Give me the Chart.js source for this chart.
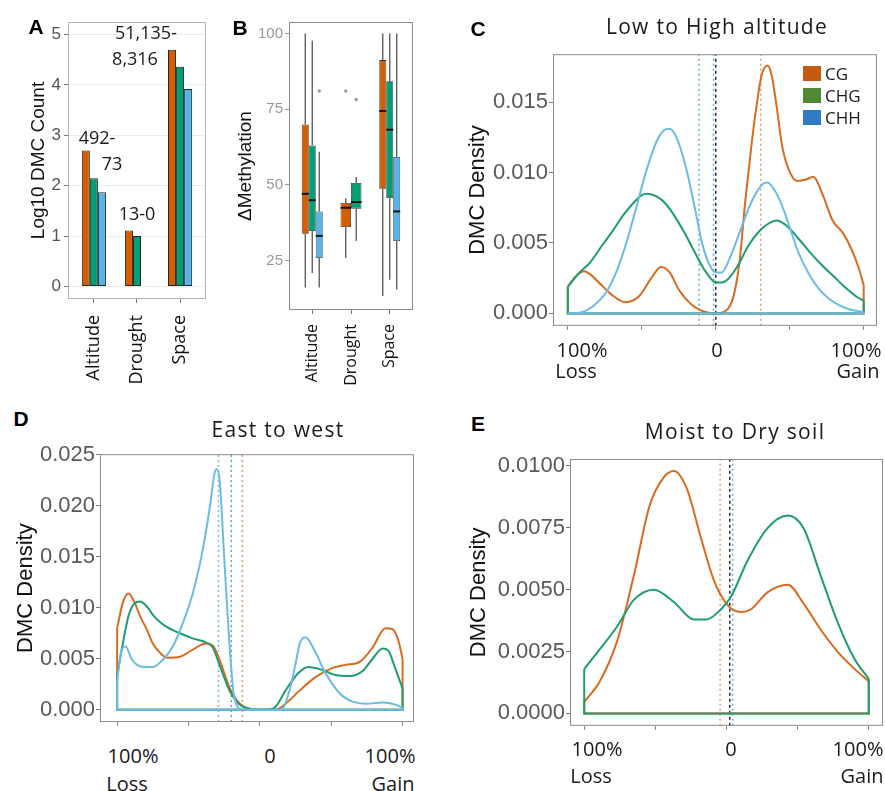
<!DOCTYPE html>
<html>
<head>
<meta charset="utf-8">
<script src="https://cdn.jsdelivr.net/npm/chart.js@4.4.0/dist/chart.umd.min.js"></script>
<style>
    html, body { margin: 0; padding: 0; background: #fff; }
    body { position: relative; width: 885px; height: 791px; overflow: hidden; }
    .panel { position: absolute; }
    .txt { position: absolute; white-space: nowrap; transform: translate(-50%, -50%); line-height: 1; color: #1a1a1a; font-family: "Open Sans", sans-serif; }
    .letter { font-family: "Liberation Sans", Arial, sans-serif; font-weight: bold; font-size: 21px; color: #000; }
    .title { font-size: 21px; letter-spacing: 1.3px; }
    .note { font-size: 18px; }
    .xlab { font-size: 20px; }
    .legend { position: absolute; left: 803px; top: 62px; font-family: "Open Sans", sans-serif; font-size: 17px; color: #1a1a1a; }
    .legend div { display: flex; align-items: center; height: 22px; }
    .legend span { display: inline-block; width: 18px; height: 15px; margin-right: 4px; }
</style>
</head>
<body>
<div class="panel" style="left:0;top:0;width:215px;height:395px"><canvas id="chart-a"></canvas></div>
<div class="panel" style="left:215px;top:0;width:210px;height:395px"><canvas id="chart-b"></canvas></div>
<div class="panel" style="left:440px;top:40px;width:445px;height:300px"><canvas id="chart-c"></canvas></div>
<div class="panel" style="left:0;top:440px;width:440px;height:300px"><canvas id="chart-d"></canvas></div>
<div class="panel" style="left:440px;top:440px;width:445px;height:300px"><canvas id="chart-e"></canvas></div>

<div class="legend">
    <div><span style="background:#c55a11"></span>CG</div>
    <div><span style="background:#4e8a35"></span>CHG</div>
    <div><span style="background:#2e7bc4"></span>CHH</div>
</div>

<script>
// ---------- data ----------
const categories = ["Altitude", "Drought", "Space"];

// A: log10 of DMC counts
const log10CG = [2.70, 1.11, 4.70];
const log10CHG = [2.15, 1.00, 4.36];
const log10CHH = [1.87, 0.00, 3.92];

// B: box stats [min, q1, median, q3, max]
const boxCG = [[16, 33.8, 47, 69.9, 100], [25.8, 36, 42.4, 44, 45.5], [13.2, 48.7, 74.4, 91.2, 100]];
const boxCHG = [[20.8, 34.7, 44.9, 63, 97.6], [31.4, 42.1, 44.3, 50.6, 52.6], [18.6, 45.6, 68.2, 84.2, 100]];
const boxCHH = [[16, 25.8, 33.1, 41.2, 60.9], null, [15.4, 31.4, 41.2, 59.2, 100]];
const outCG = [[], [81], []];
const outCHG = [[], [78.2], []];
const outCHH = [[81], [], []];

// C: low to high altitude, density over % change
const altCG = [[-100,0.0019],[-94,0.0027],[-89,0.0030],[-84,0.0027],[-79,0.0022],[-70,0.0013],[-61,0.0008],[-52,0.0012],[-43,0.0026],[-37,0.0033],[-31,0.0029],[-25,0.0017],[-16,0.0006],[-7,0.0001],[0,0],[7,0.0002],[12,0.0012],[16,0.0036],[20,0.0080],[24,0.0118],[27,0.0143],[31,0.0169],[35,0.0176],[38,0.0168],[41,0.0148],[45,0.0118],[49,0.0103],[55,0.0094],[61,0.0095],[66,0.0097],[72,0.0085],[79,0.0066],[86,0.0057],[92,0.0045],[97,0.0031],[100,0.0020]];
const altCHG = [[-100,0.0019],[-92,0.0029],[-85,0.0036],[-77,0.0048],[-70,0.0058],[-63,0.0069],[-56,0.0078],[-50,0.0084],[-46,0.0085],[-40,0.0083],[-34,0.0078],[-29,0.0071],[-21,0.0057],[-14,0.0043],[-7,0.0030],[0,0.0022],[4,0.0022],[8,0.0024],[15,0.0034],[22,0.0048],[30,0.0059],[36,0.0064],[41,0.0066],[47,0.0063],[56,0.0053],[64,0.0043],[72,0.0034],[80,0.0026],[88,0.0018],[95,0.0012],[100,0.0009]];
const altCHH = [[-100,0],[-90,0.0001],[-82,0.0006],[-74,0.0015],[-67,0.0030],[-61,0.0048],[-54,0.0074],[-47,0.0101],[-40,0.0122],[-35,0.0130],[-31.5,0.0131],[-27,0.0126],[-20,0.0103],[-14,0.0074],[-9,0.0049],[-4,0.0034],[0,0.0029],[4,0.0029],[9,0.0038],[16,0.0057],[22,0.0074],[27,0.0085],[32,0.0092],[35,0.0093],[40,0.0087],[45,0.0076],[50,0.0061],[56,0.0043],[63,0.0028],[70,0.0017],[77,0.0010],[83,0.0006],[90,0.0003],[100,0.0001]];
const altMeans = [30.4, -11.3, -1.5, 0];

// D: east to west
const ewCG = [[-100,0.0080],[-96,0.0105],[-92,0.0114],[-88,0.0106],[-84,0.0092],[-79,0.0078],[-75,0.0065],[-70,0.0056],[-65,0.0051],[-56,0.0052],[-47,0.0059],[-38,0.0065],[-33,0.0063],[-28,0.0048],[-21,0.0021],[-14,0.0006],[-7,0.0001],[2,0],[11,0],[18,0.0006],[28,0.0019],[39,0.0032],[51,0.0041],[60,0.0044],[70,0.0047],[79,0.0061],[88,0.0080],[93,0.0079],[97,0.0068],[100,0.0050]];
const ewCHG = [[-100,0.0033],[-96,0.0065],[-92,0.0092],[-88,0.0104],[-84,0.0106],[-79,0.0101],[-75,0.0093],[-70,0.0086],[-65,0.0081],[-56,0.0075],[-47,0.0070],[-38,0.0066],[-33,0.0061],[-28,0.0043],[-21,0.0018],[-14,0.0005],[-7,0.0001],[4,0],[11,0.0003],[18,0.0019],[27,0.0036],[34,0.0042],[44,0.0039],[53,0.0034],[63,0.0033],[72,0.0038],[79,0.0050],[86,0.0060],[90,0.0058],[95,0.0040],[100,0.0021]];
const ewCHH = [[-100,0.0029],[-97,0.0058],[-94,0.0062],[-90,0.0050],[-86,0.0044],[-81,0.0042],[-75,0.0042],[-68,0.0049],[-61,0.0062],[-54,0.0085],[-47,0.0114],[-40,0.0157],[-35,0.0199],[-32,0.0230],[-30.5,0.0236],[-28,0.0222],[-25,0.0150],[-21,0.0059],[-18,0.0013],[-12,0],[0,0],[15,0],[21,0.0020],[25,0.0045],[28,0.0065],[32,0.0071],[38,0.0059],[46,0.0036],[56,0.0016],[65,0.0008],[74,0.0006],[86,0.0007],[95,0.0005],[100,0.0002]];
const ewMeans = [-29, -20, -12.3];

// E: moist to dry soil
const soilCG = [[-100,0.00046],[-89,0.0013],[-77,0.0029],[-65,0.0056],[-54,0.0084],[-44,0.00955],[-37,0.0098],[-28,0.0091],[-18,0.0071],[-9,0.0054],[0.5,0.0044],[10,0.0041],[17,0.0042],[29,0.0049],[43,0.0052],[54,0.00446],[66,0.0034],[78,0.0025],[90,0.0018],[100,0.0013]];
const soilCHG = [[-100,0.0018],[-89,0.0026],[-77,0.0035],[-65,0.0046],[-51,0.0050],[-37,0.0045],[-23,0.0038],[-14,0.0038],[-4,0.0042],[3,0.0047],[15,0.0062],[29,0.0075],[43,0.0080],[54,0.0075],[66,0.0056],[78,0.0037],[90,0.0022],[100,0.0014]];
const soilMeans = [-4.5, 2.3, 4.3];

// ---------- colours ----------
const FILL = { CG: "#d55e00", CHG: "#009e73", CHH: "#56b4e9" };
const LINE = { CG: "#d96b1f", CHG: "#1e9c72", CHH: "#6cbbe3" };

Chart.defaults.font.family = '"Liberation Sans", Arial, sans-serif';
Chart.defaults.color = "#555";
Chart.defaults.animation = false;
Chart.defaults.plugins.legend.display = false;
Chart.defaults.plugins.tooltip.enabled = false;

function fixedTicks(values) {
    return scale => { scale.ticks = values.map(v => ({ value: v })); };
}

// grey box round the plot area
const framePlugin = {
    id: "frame",
    afterDatasetsDraw(chart, args, opts) {
        const { ctx, chartArea: a } = chart;
        ctx.save();
        ctx.strokeStyle = opts.color || "#8c8c8c";
        ctx.lineWidth = 1;
        ctx.strokeRect(a.left + 0.5, a.top + 0.5, a.right - a.left - 1, a.bottom - a.top - 1);
        ctx.restore();
    }
};

function catAxis(height, fontSize, pad) {
    return {
        type: "linear", min: 0.4, max: 3.6, offset: false,
        afterBuildTicks: fixedTicks([1, 2, 3]),
        afterFit: s => { s.height = height; },
        border: { display: false },
        grid: { drawOnChartArea: false, offset: false, tickLength: 4, tickColor: "#777" },
        ticks: {
            callback: v => categories[Math.round(v) - 1],
            minRotation: 90, maxRotation: 90, autoSkip: false, padding: pad,
            color: "#111", font: { family: '"Open Sans", sans-serif', size: fontSize }
        }
    };
}

// ---------- A: bars ----------
const barSeries = [["CG", log10CG], ["CHG", log10CHG], ["CHH", log10CHH]];
new Chart(document.getElementById("chart-a"), {
    type: "bar",
    data: {
        datasets: barSeries.map(([name, vals]) => ({
            label: name,
            data: vals.map((v, i) => ({ x: i + 1, y: v })),
            backgroundColor: FILL[name],
            borderColor: "#222",
            borderWidth: 1,
            borderSkipped: false,
            categoryPercentage: 0.56,
            barPercentage: 1
        }))
    },
    options: {
        responsive: true, maintainAspectRatio: false,
        layout: { padding: { top: 22, right: 7, left: 0, bottom: 0 } },
        plugins: { frame: { color: "#b5b5b5" } },
        scales: {
            x: catAxis(96, 18, 12),
            y: {
                min: -0.25, max: 5.25,
                afterBuildTicks: fixedTicks([0, 1, 2, 3, 4, 5]),
                afterFit: s => { s.width = 68; },
                border: { display: false },
                grid: { color: "#ebebeb", tickLength: 4, tickColor: "#777" },
                ticks: { padding: 3, color: "#555", font: { size: 17 } },
                title: { display: true, text: "Log10 DMC Count", color: "#111", font: { size: 19 }, padding: { top: 27, bottom: 0 } }
            }
        }
    },
    plugins: [framePlugin]
});

// ---------- B: box plots ----------
const boxSeries = [["CG", boxCG, outCG], ["CHG", boxCHG, outCHG], ["CHH", boxCHH, outCHH]];

const boxPlugin = {
    id: "boxParts",
    beforeDatasetsDraw(chart) {
        const { ctx } = chart;
        const y = chart.scales.y;
        ctx.save();
        ctx.strokeStyle = "#555";
        ctx.lineWidth = 1.3;
        boxSeries.forEach(([name, stats], di) => {
            const meta = chart.getDatasetMeta(di);
            stats.forEach((s, j) => {
                if (!s) return;
                const el = meta.data[j];
                ctx.beginPath();
                ctx.moveTo(el.x, y.getPixelForValue(s[0]));
                ctx.lineTo(el.x, y.getPixelForValue(s[1]));
                ctx.moveTo(el.x, y.getPixelForValue(s[3]));
                ctx.lineTo(el.x, y.getPixelForValue(s[4]));
                ctx.stroke();
            });
        });
        ctx.restore();
    },
    afterDatasetsDraw(chart) {
        const { ctx } = chart;
        const y = chart.scales.y;
        ctx.save();
        boxSeries.forEach(([name, stats, outs], di) => {
            const meta = chart.getDatasetMeta(di);
            stats.forEach((s, j) => {
                const el = meta.data[j];
                if (s) {
                    const py = y.getPixelForValue(s[2]);
                    ctx.strokeStyle = "#111";
                    ctx.lineWidth = 2;
                    ctx.beginPath();
                    ctx.moveTo(el.x - el.width / 2, py);
                    ctx.lineTo(el.x + el.width / 2, py);
                    ctx.stroke();
                }
                outs[j].forEach(v => {
                    ctx.fillStyle = "#a0a0a0";
                    ctx.beginPath();
                    ctx.arc(el.x, y.getPixelForValue(v), 1.8, 0, Math.PI * 2);
                    ctx.fill();
                });
            });
        });
        ctx.restore();
    }
};

new Chart(document.getElementById("chart-b"), {
    type: "bar",
    data: {
        datasets: boxSeries.map(([name, stats]) => ({
            label: name,
            data: stats.map((s, i) => ({ x: i + 1, y: s ? [s[1], s[3]] : null })),
            backgroundColor: FILL[name],
            borderColor: "#333",
            borderWidth: 0.8,
            borderSkipped: false,
            categoryPercentage: 0.54,
            barPercentage: 1,
            skipNull: true
        }))
    },
    options: {
        responsive: true, maintainAspectRatio: false,
        layout: { padding: { top: 22, right: 12, left: 0, bottom: 0 } },
        plugins: { frame: { color: "#8c8c8c" } },
        scales: {
            x: catAxis(85, 16, 10),
            y: {
                min: 8.6, max: 103.8,
                afterBuildTicks: fixedTicks([25, 50, 75, 100]),
                afterFit: s => { s.width = 74; },
                border: { display: false },
                grid: { drawOnChartArea: false, tickLength: 4, tickColor: "#999" },
                ticks: { padding: 2, color: "#999", font: { size: 15 } },
                title: { display: true, text: "ΔMethylation", color: "#111", font: { size: 19 }, padding: { top: 19, bottom: 0 } }
            }
        }
    },
    plugins: [framePlugin, boxPlugin]
});

// ---------- C, D, E: density curves ----------
function densityChart(canvasId, curves, means, cfg) {
    const datasets = [];
    curves.forEach(c => {
        const pts = c.points.map(p => ({ x: p[0], y: p[1] }));
        const first = pts[0];
        const last = pts[pts.length - 1];
        datasets.push({
            data: pts, borderColor: c.color, borderWidth: 2, pointRadius: 0,
            cubicInterpolationMode: "monotone", order: c.order
        });
        // closing edges down to zero and the baseline, like geom_density
        datasets.push({
            data: [first, { x: first.x, y: 0 }, { x: last.x, y: 0 }, last],
            borderColor: c.color, borderWidth: 2, pointRadius: 0, tension: 0, order: c.order
        });
    });
    means.forEach(m => {
        datasets.push({
            data: [{ x: m.x, y: cfg.yMin }, { x: m.x, y: cfg.yMax }],
            borderColor: m.color, borderWidth: 1.5, borderDash: m.dash || [2, 3],
            pointRadius: 0, order: 9
        });
    });

    return new Chart(document.getElementById(canvasId), {
        type: "line",
        data: { datasets },
        options: {
            responsive: true, maintainAspectRatio: false,
            layout: { padding: { top: cfg.top, right: cfg.right, left: 0, bottom: 0 } },
            plugins: { frame: { color: "#8c8c8c" } },
            scales: {
                x: {
                    type: "linear", min: cfg.xMin, max: cfg.xMax,
                    afterBuildTicks: fixedTicks([-100, -50, 0, 50, 100]),
                    afterFit: s => { s.height = cfg.xHeight; },
                    border: { display: false },
                    grid: { drawOnChartArea: false, tickLength: 4, tickColor: "#888" },
                    ticks: { callback: () => "", padding: 0 }
                },
                y: {
                    min: cfg.yMin, max: cfg.yMax,
                    afterBuildTicks: fixedTicks(cfg.yTicks),
                    afterFit: s => { s.width = cfg.yWidth; },
                    border: { display: false },
                    grid: { drawOnChartArea: false, tickLength: 4, tickColor: "#777" },
                    ticks: { callback: v => v.toFixed(cfg.decimals), padding: 1, color: "#595959", font: { size: 22 } },
                    title: { display: true, text: "DMC Density", color: "#111", font: { size: 22 }, padding: { top: cfg.titlePad, bottom: 0 } }
                }
            }
        },
        plugins: [framePlugin]
    });
}

densityChart("chart-c",
    [
        { points: altCG, color: LINE.CG, order: 3 },
        { points: altCHG, color: LINE.CHG, order: 2 },
        { points: altCHH, color: LINE.CHH, order: 1 }
    ],
    [
        { x: altMeans[0], color: "#e0a070" },
        { x: altMeans[1], color: "#66b4c4" },
        { x: altMeans[2], color: "#6aaed6" },
        { x: altMeans[3], color: "#1f2a44", dash: [3, 3] }
    ],
    { xMin: -110, xMax: 109, yMin: -0.00088, yMax: 0.0184, yTicks: [0, 0.005, 0.010, 0.015], decimals: 3,
      top: 13, right: 8, xHeight: 12, yWidth: 113, titlePad: 25 });

densityChart("chart-d",
    [
        { points: ewCG, color: LINE.CG, order: 3 },
        { points: ewCHG, color: LINE.CHG, order: 2 },
        { points: ewCHH, color: LINE.CHH, order: 1 }
    ],
    [
        { x: ewMeans[0], color: "#79bfe0" },
        { x: ewMeans[1], color: "#5aa8b0" },
        { x: ewMeans[2], color: "#e2a07a" }
    ],
    { xMin: -112, xMax: 108, yMin: -0.0012, yMax: 0.02505, yTicks: [0, 0.005, 0.010, 0.015, 0.020, 0.025], decimals: 3,
      top: 14, right: 26, xHeight: 18, yWidth: 100, titlePad: 13 });

densityChart("chart-e",
    [
        { points: soilCG, color: LINE.CG, order: 2 },
        { points: soilCHG, color: LINE.CHG, order: 1 }
    ],
    [
        { x: soilMeans[0], color: "#e0a070" },
        { x: soilMeans[1], color: "#1f2a44", dash: [3, 3] },
        { x: soilMeans[2], color: "#6aaed6" }
    ],
    { xMin: -110, xMax: 110, yMin: -0.0005, yMax: 0.01028, yTicks: [0, 0.0025, 0.005, 0.0075, 0.01], decimals: 4,
      top: 19, right: 2, xHeight: 7, yWidth: 130, titlePad: 26 });

// ---------- text laid over the panels ----------
const overlay = [
    ["A", 36, 26, "letter"], ["B", 240, 27, "letter"], ["C", 478, 28, "letter"],
    ["D", 21, 418, "letter"], ["E", 478, 423, "letter"],
    ["51,135-", 146, 32, "note"], ["8,316", 135, 58, "note"],
    ["492-", 97, 137, "note"], ["73", 112, 163, "note"], ["13-0", 137, 213, "note"],
    ["Low to High altitude", 717, 26, "title"], ["East to west", 278, 429, "title"], ["Moist to Dry soil", 735, 431, "title"],
    ["100%", 582, 350, "xlab"], ["Loss", 576, 371, "xlab"], ["0", 717, 350, "xlab"], ["100%", 856, 350, "xlab"], ["Gain", 858, 371, "xlab"],
    ["100%", 133, 756, "xlab"], ["Loss", 127, 784, "xlab"], ["0", 270, 756, "xlab"], ["100%", 390, 756, "xlab"], ["Gain", 393, 784, "xlab"],
    ["100%", 597, 749, "xlab"], ["Loss", 591, 776, "xlab"], ["0", 731, 749, "xlab"], ["100%", 858, 749, "xlab"], ["Gain", 862, 776, "xlab"]
];
overlay.forEach(([text, x, y, cls]) => {
    const el = document.createElement("div");
    el.className = "txt " + cls;
    el.textContent = text;
    el.style.left = x + "px";
    el.style.top = y + "px";
    document.body.appendChild(el);
});
</script>
</body>
</html>
